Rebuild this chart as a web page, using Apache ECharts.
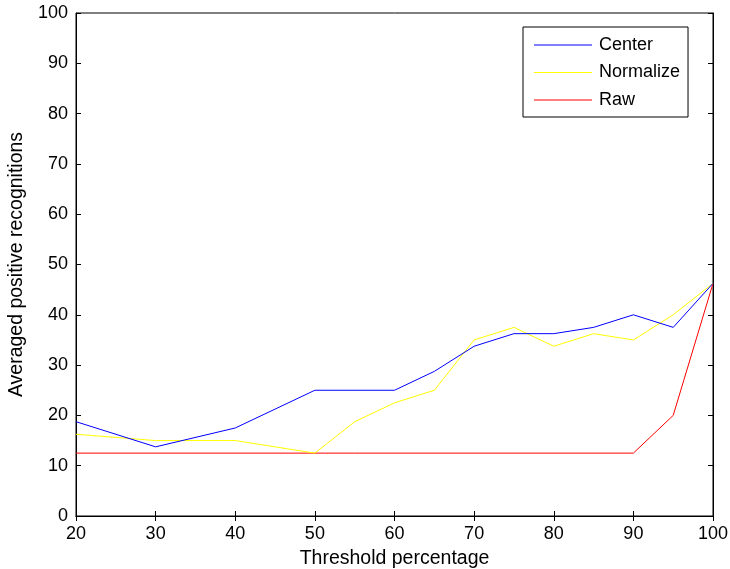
<!DOCTYPE html>
<html>
<head>
<meta charset="utf-8">
<script src="https://cdn.jsdelivr.net/npm/echarts@6/dist/echarts.min.js"></script>
<style>
  html, body { margin: 0; padding: 0; background: #ffffff; }
  #chart { width: 730px; height: 569px; }
</style>
</head>
<body>
<div id="chart"></div>
<script>
// Threshold percentages at which each method was evaluated
const centerX = [20, 30, 40, 50, 60, 65, 70, 75, 80, 85, 90, 95, 100];
const centerY = [18.75, 13.75, 17.5, 25, 25, 28.75, 33.75, 36.25, 36.25, 37.5, 40, 37.5, 46.25];

const normalizeX = [20, 30, 40, 50, 55, 60, 65, 70, 75, 80, 85, 90, 95, 100];
const normalizeY = [16.25, 15, 15, 12.5, 18.75, 22.5, 25, 35, 37.5, 33.75, 36.25, 35, 40, 46.25];

const rawX = [20, 90, 95, 100];
const rawY = [12.5, 12.5, 20, 46.25];

const seriesNames = ['Center', 'Normalize', 'Raw'];
const seriesColors = ['#0000ff', '#ffff00', '#ff0000'];

const xTitle = 'Threshold percentage';
const yTitle = 'Averaged positive recognitions';

const FONT = 'Liberation Sans, Arial, Helvetica, sans-serif';

function pairs(xs, ys) {
  return xs.map((x, i) => [x, ys[i]]);
}

const chart = echarts.init(document.getElementById('chart'), null, { renderer: 'canvas' });

const tickStyle = { show: true, inside: true, length: 5, lineStyle: { color: '#000', width: 1 } };
const labelStyle = { color: '#000', fontSize: 18, fontFamily: FONT };
const titleStyle = { color: '#000', fontSize: 19.5, fontFamily: FONT };

chart.setOption({
  backgroundColor: '#ffffff',
  animation: false,
  grid: {
    left: 76, right: 17, top: 13, bottom: 53,
    outerBoundsMode: 'none',
    containLabel: false,
    show: true, borderColor: '#000', borderWidth: 1, backgroundColor: '#ffffff'
  },
  legend: {
    orient: 'vertical',
    left: 523,
    top: 27,
    padding: [8, 8, 7, 11],
    icon: 'rect',
    itemWidth: 58,
    itemHeight: 1,
    itemGap: 7.5,
    backgroundColor: '#ffffff',
    borderColor: '#000',
    borderWidth: 1,
    textStyle: { color: '#000', fontSize: 18, lineHeight: 20, fontFamily: FONT, padding: [0, 0, 0, 2] },
    data: seriesNames
  },
  xAxis: [
    {
      type: 'value', min: 20, max: 100, interval: 10,
      name: xTitle, nameLocation: 'middle', nameGap: 33,
      nameTextStyle: titleStyle,
      axisLine: { show: true, lineStyle: { color: '#000', width: 1 } },
      axisTick: tickStyle,
      axisLabel: Object.assign({ margin: 9 }, labelStyle),
      splitLine: { show: false }
    },
    {
      type: 'value', position: 'top', min: 20, max: 100, interval: 10,
      axisLine: { show: true, lineStyle: { color: '#000', width: 1 } },
      axisTick: tickStyle,
      axisLabel: { show: false },
      splitLine: { show: false }
    }
  ],
  yAxis: [
    {
      type: 'value', min: 0, max: 100, interval: 10,
      name: yTitle, nameLocation: 'middle', nameGap: 48,
      nameTextStyle: titleStyle,
      axisLine: { show: true, lineStyle: { color: '#000', width: 1 } },
      axisTick: tickStyle,
      axisLabel: Object.assign({ margin: 8 }, labelStyle),
      splitLine: { show: false }
    },
    {
      type: 'value', position: 'right', min: 0, max: 100, interval: 10,
      axisLine: { show: true, lineStyle: { color: '#000', width: 1 } },
      axisTick: tickStyle,
      axisLabel: { show: false },
      splitLine: { show: false }
    }
  ],
  series: [
    { name: seriesNames[0], data: pairs(centerX, centerY) },
    { name: seriesNames[1], data: pairs(normalizeX, normalizeY) },
    { name: seriesNames[2], data: pairs(rawX, rawY) }
  ].map((s, i) => ({
    type: 'line',
    name: s.name,
    data: s.data,
    symbol: 'none',
    showSymbol: false,
    color: seriesColors[i],
    lineStyle: { color: seriesColors[i], width: 1 },
    z: 3 - i
  }))
});
</script>
</body>
</html>
